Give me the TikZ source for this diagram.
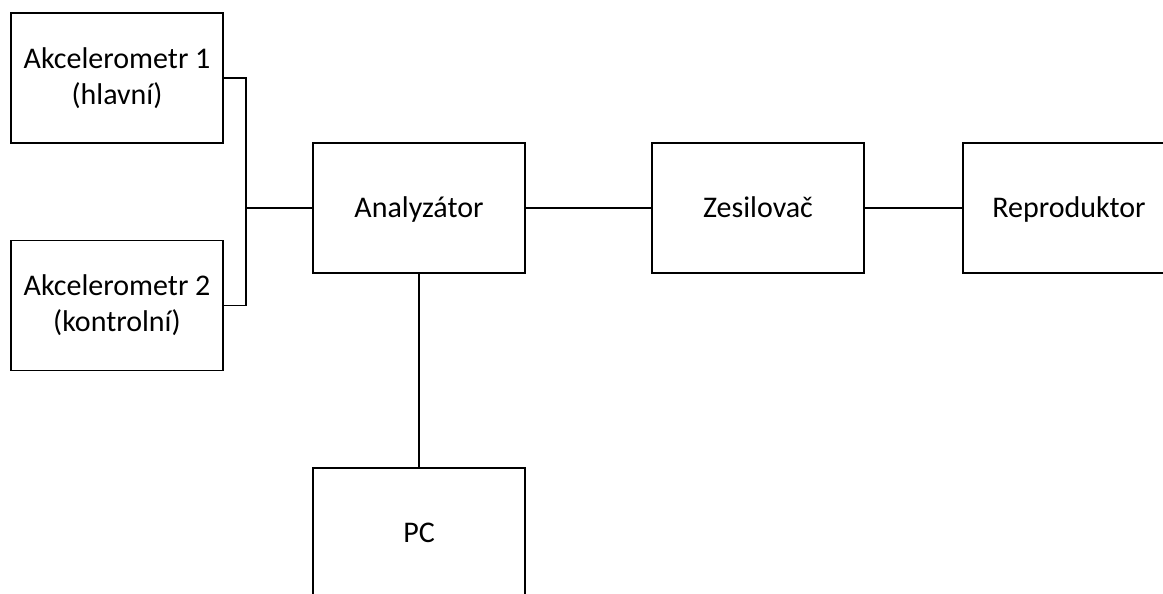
\documentclass[tikz,border=0pt]{standalone}
\usepackage{fontspec}
\setmainfont{Carlito}
\begin{document}
\begin{tikzpicture}[x=1pt,y=-1pt,
  blk/.style={draw=black, line width=1.8pt, minimum width=212pt, minimum height=130pt,
    inner sep=0pt, align=center, font=\fontsize{30}{36}\selectfont},
  one/.style={text height=20pt, text depth=2pt},
  wire/.style={draw=black, line width=1.3pt}]
\useasboundingbox (0,0) rectangle (1163,594);
\clip (0,0) rectangle (1163,594);
\node[blk] (a1) at (117,78) {Akcelerometr 1\\(hlavní)};
\node[blk] (a2) at (117,305.5) {Akcelerometr 2\\(kontrolní)};
\node[blk,one] (an) at (419,208) {Analyzátor};
\node[blk,one] (ze) at (758,208) {Zesilovač};
\node[blk,one] (re) at (1069,208) {Reproduktor};
\node[blk,one] (pc) at (419,533) {PC};
\coordinate (j) at (246,208);
\draw[wire] (a1.east) -| (j);
\draw[wire] (a2.east) -| (j);
\draw[wire] (j) -- (an.west);
\draw[wire] (an.east) -- (ze.west);
\draw[wire] (ze.east) -- (re.west);
\draw[wire] (an.south) -- (pc.north);
\end{tikzpicture}
\end{document}
